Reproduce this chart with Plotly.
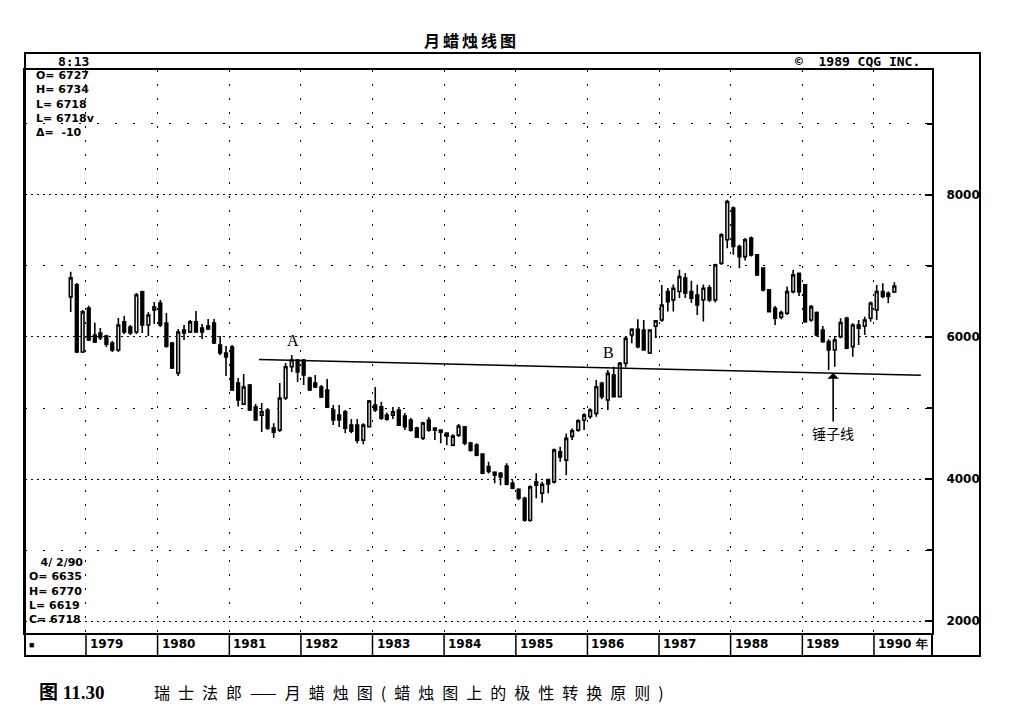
import pandas as pd
import plotly.graph_objects as go

# monthly Swiss franc candles, Oct 1978 - Apr 1990
opens = [6564, 6733, 5789, 6409, 6028, 6056, 6014, 5915, 5817, 6212,
         6140, 6070, 6635, 6169, 6381, 6479, 6197, 5915, 5493, 6099,
         6070, 6212, 6127, 6155, 6197, 5887, 5775, 5859, 5351, 5055,
         5323, 5013, 4900, 4971, 4717, 4689, 5140, 5581, 5676, 5676,
         5422, 5351, 5295, 5253, 4971, 4900, 4947, 4759, 4759, 4548,
         4735, 5041, 5017, 4900, 4900, 4971, 4886, 4830, 4717, 4576,
         4830, 4717, 4689, 4646, 4477, 4618, 4735, 4505, 4477, 4350,
         4176, 4096, 4082, 4181, 3941, 3856, 3730, 3420, 3960, 3800,
         3993, 3960, 4383, 4266, 4600, 4689, 4830, 4880, 4924, 5347,
         5112, 5464, 5159, 5629, 6028, 6108, 6099, 5775, 6150, 6240,
         6640, 6522, 6640, 6828, 6640, 6592, 6522, 6691, 6522, 7039,
         7368, 7815, 7273, 7132, 7392, 7156, 6969, 6663, 6405, 6278,
         6334, 6639, 6898, 6733, 6240, 6343, 6099, 5934, 5817, 6005,
         6264, 5864, 6169, 6150, 6264, 6381, 6639, 6616, 6635]
highs = [6917, 6760, 6380, 6440, 6200, 6127, 6030, 5945, 6268, 6296,
         6169, 6620, 6650, 6353, 6493, 6522, 6338, 5930, 6113, 6169,
         6240, 6367, 6183, 6254, 6254, 6014, 5873, 5887, 5422, 5478,
         5337, 5055, 5069, 5000, 4787, 5351, 5633, 5746, 5690, 5690,
         5440, 5464, 5323, 5408, 5041, 5041, 4971, 4844, 4844, 4787,
         5112, 5295, 5088, 4935, 5013, 5013, 4929, 4858, 4735, 4806,
         4872, 4717, 4689, 4646, 4632, 4773, 4745, 4524, 4505, 4364,
         4242, 4110, 4100, 4223, 3984, 3871, 3750, 3913, 4080, 3960,
         3993, 4430, 4453, 4642, 4712, 4840, 4925, 4995, 5394, 5370,
         5535, 5581, 5648, 6005, 6122, 6249, 6240, 6108, 6240, 6733,
         6691, 6740, 6945, 6900, 6790, 6734, 6740, 6733, 7030, 7462,
         7932, 7838, 7297, 7392, 7414, 7160, 6983, 6672, 6437, 6371,
         6709, 6945, 6907, 6743, 6451, 6357, 6155, 5967, 6014, 6264,
         6286, 6193, 6240, 6286, 6498, 6733, 6757, 6640, 6770]
lows = [6353, 5775, 5775, 5945, 5915, 5958, 5860, 5789, 5789, 6042,
        6028, 6042, 6056, 6014, 6183, 6140, 5850, 5549, 5450, 5958,
        6056, 6056, 5972, 6099, 5901, 5746, 5450, 5239, 5020, 5041,
        4957, 4816, 4661, 4689, 4576, 4661, 5112, 5507, 5366, 5323,
        5239, 5281, 5140, 4999, 4759, 4731, 4646, 4646, 4505, 4491,
        4731, 4943, 4830, 4820, 4844, 4745, 4689, 4665, 4576, 4548,
        4665, 4548, 4505, 4477, 4463, 4590, 4477, 4383, 4322, 4068,
        4076, 3941, 3913, 3913, 3856, 3702, 3397, 3397, 3730, 3666,
        3800, 3937, 4242, 4054, 4548, 4665, 4689, 4850, 4877, 5122,
        4971, 5149, 5154, 5573, 5911, 5841, 5807, 5760, 5986, 6216,
        6360, 6360, 6550, 6550, 6480, 6310, 6218, 6494, 6484, 7015,
        7250, 7156, 6969, 7076, 7132, 6860, 6640, 6343, 6169, 6250,
        6310, 6616, 6578, 6202, 6216, 6005, 5920, 5535, 5581, 5981,
        5827, 5723, 5887, 6028, 6216, 6240, 6545, 6475, 6619]
closes = [6832, 5789, 6353, 5958, 5930, 5990, 5900, 5817, 6169, 6070,
          6056, 6592, 6169, 6310, 6423, 6169, 5870, 5563, 6070, 6056,
          6212, 6070, 6070, 6113, 5915, 5775, 5718, 5253, 5112, 5295,
          4971, 4830, 4947, 4717, 4661, 5140, 5581, 5676, 5507, 5464,
          5253, 5295, 5154, 5013, 4830, 4830, 4717, 4675, 4548, 4759,
          5098, 4971, 4858, 4844, 4947, 4759, 4735, 4689, 4590, 4787,
          4689, 4689, 4661, 4604, 4604, 4745, 4505, 4407, 4336, 4082,
          4106, 4054, 4030, 3927, 3871, 3730, 3420, 3890, 3913, 3927,
          3930, 4407, 4312, 4572, 4680, 4820, 4900, 4971, 5299, 5159,
          5488, 5159, 5629, 5981, 6108, 5864, 5817, 6099, 6226, 6451,
          6498, 6686, 6850, 6616, 6545, 6451, 6686, 6522, 7015, 7438,
          7908, 7273, 7132, 7368, 7156, 6874, 6663, 6357, 6264, 6343,
          6639, 6874, 6639, 6216, 6427, 6028, 5934, 5817, 5958, 6202,
          5841, 6169, 6122, 6240, 6475, 6639, 6570, 6570, 6718]

months = pd.date_range("1978-10-01", periods=len(opens), freq="MS") + pd.Timedelta(days=14)

year_labels = ["1979", "1980", "1981", "1982", "1983", "1984",
               "1985", "1986", "1987", "1988", "1989", "1990 年"]
year_starts = [f"{y}-01-01" for y in range(1979, 1991)]

# polarity line drawn through A and B
trend_dates = ["1981-06-01", "1990-08-28"]
trend_prices = [5683, 5460]

hammer_date = "1989-06-07"
hammer_low = 5493

last_quote = ["O= 6727", "H= 6734", "L= 6718", "L= 6718v", "Δ=&nbsp;&nbsp;-10"]
bar_quote = ["&nbsp;&nbsp;&nbsp;4/ 2/90", "O= 6635", "H= 6770", "L= 6619", "C= 6718"]

# plot box in pixels, used to place the frame texts
PL, PR, PT, PB = 25, 932, 70, 633


def fx(x):
    return (x - PL) / (PR - PL)


def fy(y):
    return (PB - y) / (PB - PT)


mono = dict(family="DejaVu Sans Mono", size=13, color="black", weight="bold")
quote_font = dict(family="DejaVu Sans", size=11, color="black", weight="bold")
sans = dict(family="DejaVu Sans", size=12, color="black", weight="bold")


def note(text, x, y, **kw):
    d = dict(text=text, x=x, y=y, xref="paper", yref="paper", showarrow=False,
             xanchor="center", yanchor="middle")
    d.update(kw)
    return d


fig = go.Figure()
fig.add_trace(go.Candlestick(
    x=months, open=opens, high=highs, low=lows, close=closes,
    increasing=dict(line=dict(color="black", width=1.6), fillcolor="white"),
    decreasing=dict(line=dict(color="black", width=1.6), fillcolor="black"),
    whiskerwidth=0, showlegend=False, hoverinfo="x+y"
))
fig.add_trace(go.Scatter(
    x=trend_dates, y=trend_prices, mode="lines",
    line=dict(color="black", width=1.5), showlegend=False, hoverinfo="skip"
))

shapes = [
    # outer frame incl. header and price scale
    dict(type="rect", xref="paper", yref="paper", x0=0, x1=fx(980), y0=fy(656), y1=fy(53),
         line=dict(color="black", width=2)),
    dict(type="line", xref="paper", yref="paper", x0=1, x1=1, y0=fy(656), y1=0,
         line=dict(color="black", width=2)),
]
for ys in year_starts:
    shapes.append(dict(type="line", xref="x", yref="paper", x0=ys, x1=ys, y0=fy(656), y1=0,
                       line=dict(color="black", width=1.5)))

annotations = [
    note('<b><span style="letter-spacing:3px">月蜡烛线图</span></b>', fx(471), fy(40),
         font=dict(family="Noto Sans CJK SC", size=16, color="black")),
    note("8:13", fx(56), fy(61), xanchor="left", font=mono),
    note("©&nbsp;&nbsp;1989 CQG INC.", fx(922), fy(61), xanchor="right", font=mono),
    note("■", fx(31), fy(644), font=dict(size=9, color="black")),
    note("A", fx(293), fy(340), font=dict(family="Liberation Serif", size=16, color="black")),
    note("B", fx(608), fy(353), font=dict(family="Liberation Serif", size=16, color="black")),
    note("<b>图 11.30</b>", fx(37), fy(692), xanchor="left",
         font=dict(family="Liberation Serif, Noto Sans CJK SC", size=19, color="black")),
    note('<span style="letter-spacing:8px">瑞士法郎——月蜡烛图(蜡烛图上的极性转换原则)</span>',
         fx(152), fy(692), xanchor="left",
         font=dict(family="Noto Sans CJK SC", size=16, color="black")),
    note("<br>".join(last_quote), fx(34), fy(103.5), xanchor="left", align="left",
         font=quote_font),
    note("<br>".join(bar_quote), fx(27), fy(591), xanchor="left", align="left",
         font=quote_font),
    dict(text="锤子线", x=hammer_date, y=hammer_low, xref="x", yref="y",
         ax=0, ay=60, showarrow=True, arrowhead=1, arrowsize=1.2, arrowwidth=1.6,
         arrowcolor="black", font=dict(family="Noto Sans CJK SC", size=14, color="black")),
]
for ys, lab in zip(year_starts, year_labels):
    annotations.append(dict(text=lab, x=ys, y=fy(644), xref="x", yref="paper",
                            xanchor="left", yanchor="middle", xshift=2,
                            showarrow=False, font=sans))

fig.update_layout(
    width=1022, height=720,
    margin=dict(l=PL, r=1022 - PR, t=PT, b=720 - PB),
    paper_bgcolor="white", plot_bgcolor="white",
    shapes=shapes, annotations=annotations,
    xaxis=dict(
        type="date", range=["1978-02-24", "1990-10-24"],
        rangeslider=dict(visible=False),
        tick0="1979-01-01", dtick="M12", showticklabels=False, ticks="",
        showgrid=True, gridcolor="black", gridwidth=1.3, griddash="2px,12px",
        showline=True, mirror=True, linecolor="black", linewidth=2, zeroline=False
    ),
    yaxis=dict(
        side="right", range=[1832, 9759], tick0=0, dtick=2000,
        showgrid=True, gridcolor="black", gridwidth=1.3, griddash="2px,4px",
        ticks="inside", ticklen=7, tickcolor="black", tickwidth=1.5,
        tickfont=sans, ticklabelstandoff=10,
        minor=dict(tick0=0, dtick=1000, showgrid=True, gridcolor="black", gridwidth=1.3,
                   griddash="2px,16px", ticks="inside", ticklen=5, tickcolor="black"),
        showline=True, mirror=True, linecolor="black", linewidth=2, zeroline=False
    ),
)

fig.write_html("out.html", config={"displayModeBar": False},
               post_script="document.body.style.margin='0';")
